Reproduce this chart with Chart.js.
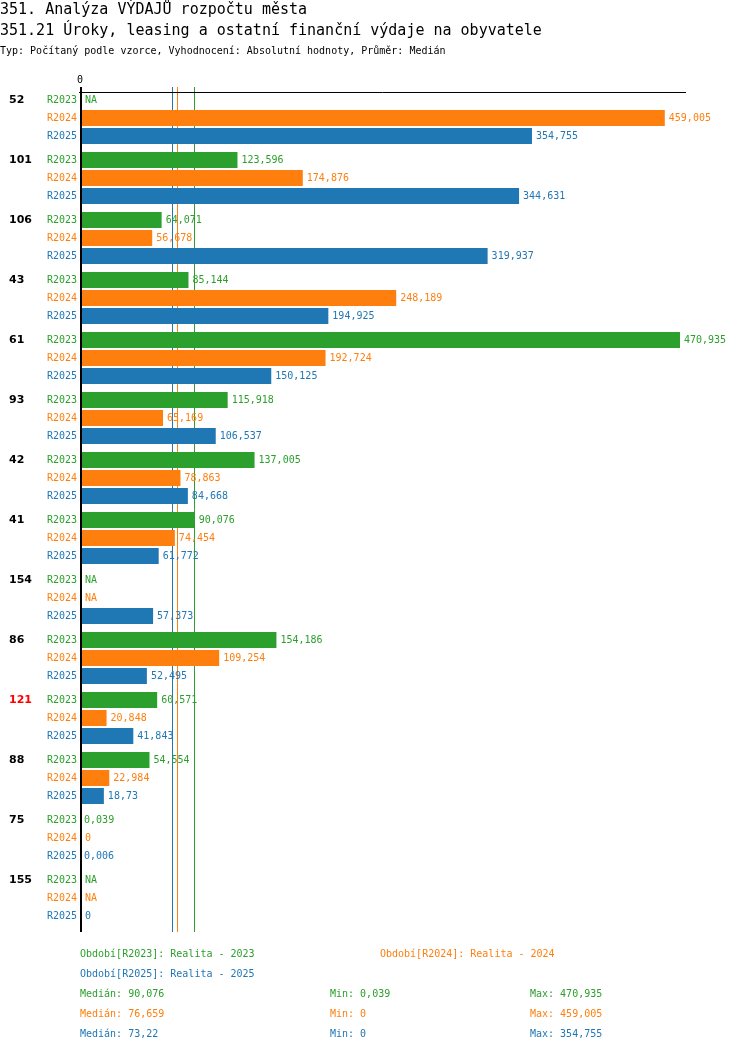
<!DOCTYPE html>
<html>
<head>
<meta charset="utf-8">
<script src="https://cdn.jsdelivr.net/npm/chart.js@4"></script>
<style>
  body { margin: 0; background: #fff; }
  canvas { display: block; }
</style>
</head>
<body>
<canvas id="chart" width="750" height="1052"></canvas>
<script>
const groups = ['52', '101', '106', '43', '61', '93', '42', '41', '154', '86', '121', '88', '75', '155'];
const highlighted = ['121'];
const periods = ['R2023', 'R2024', 'R2025'];
const periodNames = ['Realita - 2023', 'Realita - 2024', 'Realita - 2025'];
const r2023 = [null, 123.596, 64.071, 85.144, 470.935, 115.918, 137.005, 90.076, null, 154.186, 60.571, 54.554, 0.039, null];
const r2024 = [459.005, 174.876, 56.678, 248.189, 192.724, 65.169, 78.863, 74.454, null, 109.254, 20.848, 22.984, 0, null];
const r2025 = [354.755, 344.631, 319.937, 194.925, 150.125, 106.537, 84.668, 61.772, 57.373, 52.495, 41.843, 18.73, 0.006, 0];
const medians = [90.076, 76.659, 73.22];
const mins = [0.039, 0, 0];
const maxs = [470.935, 459.005, 354.755];
const colors = ['#2ca02c', '#ff7f0e', '#1f77b4'];

const mono = '"DejaVu Sans Mono", "Liberation Mono", monospace';
const fmt = v => v === null ? 'NA' : String(v).replace('.', ',');
const xMax = Math.max(...maxs) * 1.01;

// median lines sit behind the bars
const medianLines = {
    id: 'medianLines',
    beforeDatasetsDraw(chart) {
        const ctx = chart.ctx, a = chart.chartArea, x = chart.scales.x;
        ctx.save();
        ctx.lineWidth = 1;
        medians.forEach((m, i) => {
            const px = Math.round(x.getPixelForValue(m)) - 0.5;
            ctx.strokeStyle = colors[i];
            ctx.beginPath();
            ctx.moveTo(px, a.top - 1);
            ctx.lineTo(px, a.bottom + 4);
            ctx.stroke();
        });
        ctx.restore();
    }
};

const annotations = {
    id: 'annotations',
    afterDatasetsDraw(chart) {
        const ctx = chart.ctx, a = chart.chartArea, x = chart.scales.x;
        const zero = x.getPixelForValue(0);
        ctx.save();

        // axes
        ctx.strokeStyle = '#000';
        ctx.lineWidth = 1;
        ctx.beginPath();
        ctx.moveTo(zero - 1, a.top + 4.5);
        ctx.lineTo(a.right, a.top + 4.5);
        ctx.stroke();
        ctx.lineWidth = 2;
        ctx.beginPath();
        ctx.moveTo(zero + 1, a.top - 1);
        ctx.lineTo(zero + 1, a.bottom + 4);
        ctx.stroke();

        ctx.textBaseline = 'middle';
        ctx.font = '10px ' + mono;
        ctx.fillStyle = '#000';
        ctx.textAlign = 'center';
        ctx.fillText('0', zero, a.top - 8);

        // titles
        ctx.textAlign = 'left';
        ctx.font = '15px ' + mono;
        ctx.fillText('351. Analýza VÝDAJŮ rozpočtu města', 0, 10);
        ctx.fillText('351.21 Úroky, leasing a ostatní finanční výdaje na obyvatele', 0, 31);
        ctx.font = '10px ' + mono;
        ctx.fillText('Typ: Počítaný podle vzorce, Vyhodnocení: Absolutní hodnoty, Průměr: Medián', 0, 51);

        // bar labels
        chart.data.datasets.forEach((ds, di) => {
            const meta = chart.getDatasetMeta(di);
            meta.data.forEach((bar, i) => {
                const v = ds.data[i];
                const y = bar.y;
                ctx.font = '10px ' + mono;
                ctx.fillStyle = colors[di];
                ctx.textAlign = 'right';
                ctx.fillText(periods[di], zero - 3, y);
                ctx.textAlign = 'left';
                const end = v ? x.getPixelForValue(v) : zero + 1;
                ctx.fillText(fmt(v), end + 4, y);
                if (di === 0) {
                    ctx.font = 'bold 11px "DejaVu Sans", sans-serif';
                    ctx.fillStyle = highlighted.includes(groups[i]) ? '#ff0000' : '#000';
                    ctx.fillText(groups[i], 9, y);
                }
            });
        });

        // legend and stats
        ctx.font = '10px ' + mono;
        const legendPos = [[80, 954], [380, 954], [80, 974]];
        periods.forEach((p, i) => {
            ctx.fillStyle = colors[i];
            ctx.fillText('Období[' + p + ']: ' + periodNames[i], legendPos[i][0], legendPos[i][1]);
            const y = 994 + i * 20;
            ctx.fillText('Medián: ' + fmt(medians[i]), 80, y);
            ctx.fillText('Min: ' + fmt(mins[i]), 330, y);
            ctx.fillText('Max: ' + fmt(maxs[i]), 530, y);
        });
        ctx.restore();
    }
};

const ctx = document.getElementById('chart').getContext('2d');
const chart = new Chart(ctx, {
    type: 'bar',
    data: {
        labels: groups,
        datasets: [r2023, r2024, r2025].map((d, i) => ({
            label: periods[i],
            data: d,
            backgroundColor: colors[i],
            categoryPercentage: 0.9,
            barPercentage: 16 / 18
        }))
    },
    options: {
        indexAxis: 'y',
        responsive: false,
        devicePixelRatio: 1,
        animation: false,
        layout: {
            padding: { left: 80, right: 64, top: 88, bottom: 124 }
        },
        plugins: {
            legend: { display: false },
            tooltip: { enabled: false }
        },
        scales: {
            x: { min: 0, max: xMax, display: false },
            y: { display: false }
        }
    },
    plugins: [medianLines, annotations]
});
</script>
</body>
</html>
